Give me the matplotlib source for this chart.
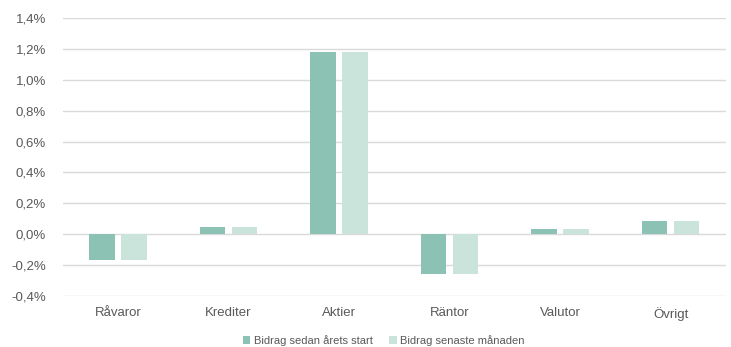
import matplotlib
matplotlib.use("Agg")
import matplotlib.pyplot as plt
import numpy as np
from matplotlib.ticker import FuncFormatter

categories = ["Råvaror", "Krediter", "Aktier", "Räntor", "Valutor", "Övrigt"]
ytd = [-0.164, 0.05, 1.177, -0.255, 0.032, 0.084]
last_month = [-0.164, 0.05, 1.177, -0.255, 0.032, 0.084]

plt.rcParams['font.family'] = ['Liberation Sans', 'DejaVu Sans']
text_color = "#595959"

fig = plt.figure(figsize=(7.31, 3.47), dpi=100)
ax = fig.add_axes([0.086, 0.147, 0.907, 0.801])

x = np.arange(len(categories))
w = 0.23
ax.bar(x - 0.145, ytd, w, color="#8cc2b4", label="Bidrag sedan årets start", zorder=3)
ax.bar(x + 0.145, last_month, w, color="#cae4dc", label="Bidrag senaste månaden", zorder=3)

ax.set_xlim(-0.5, len(categories) - 0.5)
ax.set_ylim(-0.4, 1.4)
ax.set_yticks(np.arange(-0.4, 1.41, 0.2))
ax.yaxis.set_major_formatter(FuncFormatter(lambda v, p: f"{v:.1f}%".replace(".", ",").replace("-0,0", "0,0")))
ax.set_xticks(x)
ax.set_xticklabels(categories)
ax.grid(axis="y", color="#d9d9d9", linewidth=1, zorder=0)
for s in ax.spines.values():
    s.set_visible(False)
ax.tick_params(length=0, colors=text_color, labelsize=9.5)
ax.tick_params(axis="y", pad=12)
ax.tick_params(axis="x", pad=8)

fig.legend(loc="lower center", bbox_to_anchor=(0.525, -0.025), ncol=2, frameon=False,
           fontsize=8, handlelength=0.7, handleheight=0.7, handletextpad=0.3,
           columnspacing=1.5, labelcolor=text_color)

fig.savefig("out.png", dpi=100)
